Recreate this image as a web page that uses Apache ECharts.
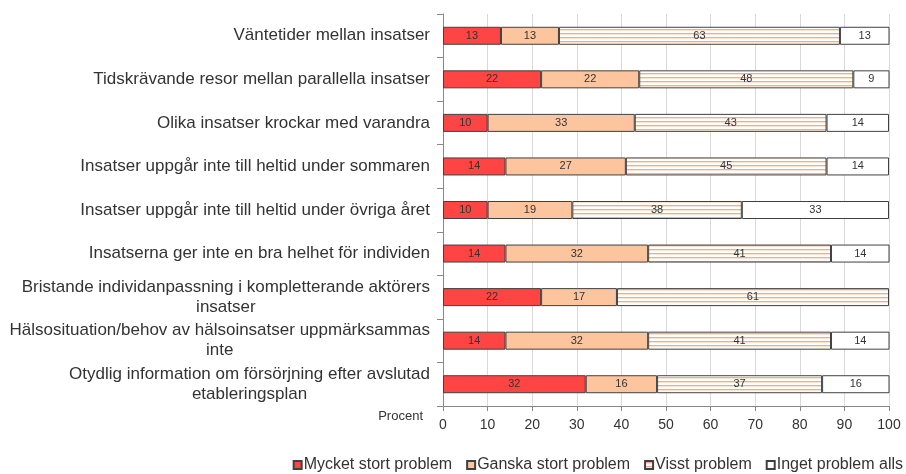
<!DOCTYPE html>
<html>
<head>
<meta charset="utf-8">
<script src="https://cdn.jsdelivr.net/npm/echarts@6/dist/echarts.min.js"></script>
<style>
  html, body { margin: 0; padding: 0; background: #fff; }
  #chart { width: 906px; height: 474px; }
</style>
</head>
<body>
<div id="chart"></div>
<script>
const categories = [
  "Väntetider mellan insatser",
  "Tidskrävande resor mellan parallella insatser",
  "Olika insatser krockar med varandra",
  "Insatser uppgår inte till heltid under sommaren",
  "Insatser uppgår inte till heltid under övriga året",
  "Insatserna ger inte en bra helhet för individen",
  "Bristande individanpassning i kompletterande aktörers\ninsatser",
  "Hälsosituation/behov av hälsoinsatser uppmärksammas\ninte",
  "Otydlig information om försörjning efter avslutad\netableringsplan"
];
const seriesNames = ["Mycket stort problem", "Ganska stort problem", "Visst problem", "Inget problem alls"];
const mycketStort = [13, 22, 10, 14, 10, 14, 22, 14, 32];
const ganskaStort = [13, 22, 33, 27, 19, 32, 17, 32, 16];
const visst = [63, 48, 43, 45, 38, 41, 61, 41, 37];
const ingetAlls = [13, 9, 14, 14, 33, 14, null, 14, 16];

// striped fill for "Visst problem"
const stripe = document.createElement("canvas");
stripe.width = 4;
stripe.height = 4;
const sctx = stripe.getContext("2d");
sctx.fillStyle = "#ffffff";
sctx.fillRect(0, 0, 4, 4);
sctx.fillStyle = "#f7ae7c";
sctx.fillRect(0, 1, 4, 1);
sctx.fillStyle = "#fde2cf";
sctx.fillRect(0, 2, 4, 1);

const fills = ["#ff4444", "#fdc59d", { image: stripe, repeat: "repeat" }, "#ffffff"];
const values = [mycketStort, ganskaStort, visst, ingetAlls];

const chart = echarts.init(document.getElementById("chart"), null, { renderer: "canvas" });

const option = {
  animation: false,
  textStyle: { fontFamily: "Liberation Sans, Arial, sans-serif" },
  grid: { left: 443, right: 17, top: 14, bottom: 68 },
  legend: {
    bottom: -4,
    right: -2,
    itemWidth: 8,
    itemHeight: 8,
    itemGap: 14,
    icon: "rect",
    textStyle: { fontSize: 16, color: "#333", padding: [0, 0, 0, -3] },
    data: seriesNames
  },
  xAxis: {
    type: "value",
    min: 0,
    max: 100,
    interval: 10,
    name: "Procent",
    nameLocation: "start",
    nameGap: 20,
    nameTextStyle: { fontSize: 13, color: "#333", verticalAlign: "top", padding: [4, 0, 0, 0] },
    axisLine: { show: true, lineStyle: { color: "#888" } },
    axisTick: { show: true, length: 5, lineStyle: { color: "#888" } },
    axisLabel: { fontSize: 14, color: "#333", margin: 12 },
    splitLine: { show: true, lineStyle: { color: "#d9d9d9" } }
  },
  yAxis: {
    type: "category",
    inverse: true,
    data: categories,
    axisLine: { show: true, lineStyle: { color: "#888" } },
    axisTick: { show: true, length: 6, lineStyle: { color: "#888" } },
    axisLabel: {
      fontSize: 17,
      color: "#333",
      margin: 13,
      align: "right",
      lineHeight: 20,
      formatter: v => v.split("\n").map(s => "{c|" + s + "}").join("\n"),
      rich: { c: { fontSize: 17, color: "#333", align: "center", lineHeight: 20 } }
    },
    splitLine: { show: false }
  },
  series: seriesNames.map((name, i) => ({
    name: name,
    type: "bar",
    stack: "total",
    barWidth: 18,
    data: values[i],
    itemStyle: { color: fills[i], borderColor: "#404040", borderWidth: 1 },
    label: {
      show: true,
      position: "inside",
      fontSize: 11,
      color: "#333",
      formatter: p => (p.value == null ? "" : p.value)
    },
    emphasis: { disabled: true }
  }))
};

chart.setOption(option);
</script>
</body>
</html>
